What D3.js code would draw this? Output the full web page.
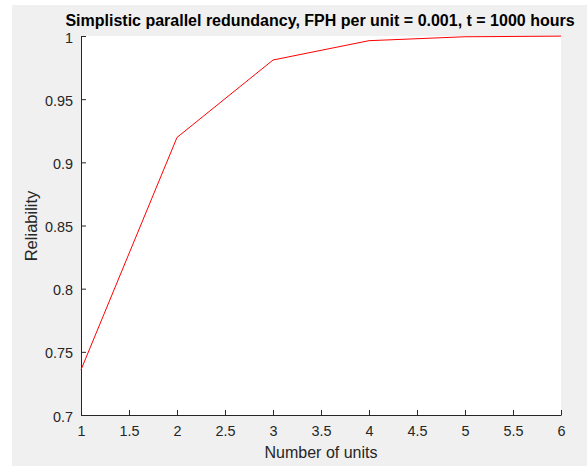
<!DOCTYPE html>
<html>
<head>
<meta charset="utf-8">
<script src="https://cdn.jsdelivr.net/npm/d3@7"></script>
<style>
  html, body { margin: 0; padding: 0; background: #ffffff; }
  svg { display: block; }
  text { font-family: "Liberation Sans", Arial, Helvetica, sans-serif; }
</style>
</head>
<body>
<script>
// Reliability of a parallel arrangement versus the number of units
const units = [1, 2, 3, 4, 5, 6];
const reliability = [0.7358, 0.9197, 0.9810, 0.9963, 0.9994, 0.9999];
const xTicks = [1, 1.5, 2, 2.5, 3, 3.5, 4, 4.5, 5, 5.5, 6];
const yTicks = [0.7, 0.75, 0.8, 0.85, 0.9, 0.95, 1];
const titleText = "Simplistic parallel redundancy, FPH per unit = 0.001, t = 1000 hours";
const xLabel = "Number of units";
const yLabel = "Reliability";

const W = 587, H = 466;
const plot = { left: 81, right: 561, top: 36, bottom: 415 };
const axisColor = "#262626";

const svg = d3.select("body").append("svg").attr("width", W).attr("height", H);

// figure background
svg.append("rect").attr("x", 12).attr("y", 5).attr("width", W - 12).attr("height", H - 5)
  .attr("fill", "#f0f0f0");

// axes area
svg.append("rect").attr("x", plot.left).attr("y", plot.top)
  .attr("width", plot.right - plot.left).attr("height", plot.bottom - plot.top)
  .attr("fill", "#ffffff");

const x = d3.scaleLinear().domain([1, 6]).range([plot.left, plot.right]);
const y = d3.scaleLinear().domain([0.7, 1]).range([plot.bottom, plot.top]);

const fmt = d => String(+d.toFixed(2));

const xAxis = svg.append("g").attr("transform", `translate(0,${plot.bottom})`)
  .call(d3.axisBottom(x).tickValues(xTicks).tickFormat(fmt).tickSizeInner(-5).tickSizeOuter(0).tickPadding(11));
const yAxis = svg.append("g").attr("transform", `translate(${plot.left},0)`)
  .call(d3.axisLeft(y).tickValues(yTicks).tickFormat(fmt).tickSizeInner(-5).tickSizeOuter(0).tickPadding(8));

[xAxis, yAxis].forEach(g => {
  g.select(".domain").attr("stroke", axisColor).attr("stroke-width", 1);
  g.selectAll(".tick line").attr("stroke", axisColor);
  g.selectAll(".tick text").attr("fill", axisColor).style("font-size", "14.4px");
});
// y tick labels sit slightly below their ticks
yAxis.selectAll(".tick text").attr("y", 1.5);

// data line
const line = d3.line().x((d, i) => x(units[i])).y(d => y(d));
svg.append("path").datum(reliability)
  .attr("d", line)
  .attr("fill", "none")
  .attr("stroke", "#ff0000")
  .attr("stroke-width", 1);

// title
svg.append("text")
  .attr("x", (plot.left + plot.right) / 2 - 1).attr("y", 25.5)
  .attr("text-anchor", "middle")
  .style("font-size", "16px").style("font-weight", "bold")
  .attr("fill", "#000000")
  .text(titleText);

// axis labels
svg.append("text")
  .attr("x", (plot.left + plot.right) / 2).attr("y", 458)
  .attr("text-anchor", "middle")
  .style("font-size", "16px")
  .attr("fill", axisColor)
  .text(xLabel);

svg.append("text")
  .attr("transform", `translate(36.5,226) rotate(-90)`)
  .attr("text-anchor", "middle")
  .style("font-size", "16.5px")
  .attr("fill", axisColor)
  .text(yLabel);
</script>
</body>
</html>
